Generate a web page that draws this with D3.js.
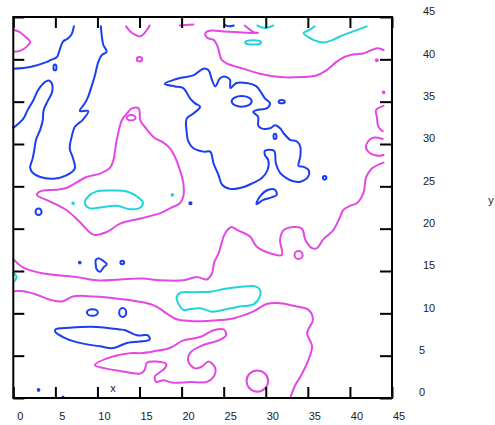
<!DOCTYPE html>
<html>
<head>
<meta charset="utf-8">
<script src="https://cdn.jsdelivr.net/npm/d3@7"></script>
<style>
  body { margin: 0; background: #fff; }
  svg { display: block; font-family: "Liberation Sans", Arial, sans-serif; }
</style>
</head>
<body>
<svg id="chart" width="495" height="425"></svg>
<script>
// tick values on both axes
const xTicks = [0, 5, 10, 15, 20, 25, 30, 35, 40, 45];
const yTicks = [0, 5, 10, 15, 20, 25, 30, 35, 40, 45];

// contour lines, points as [x, y] in data units
const magentaOpen = [
  [[0,43.5],[0.8,43.2],[1.5,42.6],[2.0,42.1],[1.6,41.5],[0.8,41.0],[0,40.9]],
  [[13.4,43.9],[13.9,43.3],[14.5,42.9],[15.0,42.7],[15.4,42.9],[15.9,43.5],[16.2,44.0]],
  [[19.8,44.0],[20.5,44.05],[21.4,44.1]],
  [[27.5,44.0],[28.0,43.6],[28.5,43.25],[29.1,43.1],[26.9,43.2],[25.0,43.3],[23.6,43.4],[22.9,43.2],
   [22.8,42.9],[23.1,42.5],[23.8,42.3],[24.2,41.7],[24.4,41.1],[24.6,40.3],[24.8,39.9],[25.4,39.5],
   [26.3,39.2],[27.3,38.9],[29.3,38.3],[31.7,37.9],[34.1,37.9],[36.0,38.1],[37.2,38.7],[38.4,39.7],
   [39.4,40.3],[40.6,40.6],[41.6,40.7],[42.6,41.1],[43.3,41.3],[44.0,41.1]],
  [[44.0,34.5],[43.1,34.0],[43.2,33.2],[43.4,32.0],[43.9,31.5]],
  [[43.9,30.6],[42.6,30.7],[41.9,29.7],[42.4,28.9],[43.4,28.6],[44.0,28.7]],
  [[44.0,27.8],[42.6,27.1],[41.9,26.0],[41.8,25.4],[41.6,24.2],[40.8,23.0],[40.0,22.7],[39.2,22.2],
   [38.8,21.3],[38.0,19.8],[36.8,18.7],[36.1,17.7],[35.5,17.7],[34.7,18.7],[34.3,20.0],[33.3,20.2],
   [32.1,19.8],[31.7,18.7],[31.9,16.9],[30.5,17.1],[28.9,17.9],[28.1,19.1],[26.7,19.8],[25.9,20.2],
   [25.4,19.8],[25.0,19.1],[24.4,17.1],[23.9,16.1],[23.6,14.7],[23.0,14.0],[21.8,14.3],[20.2,13.9],
   [17.4,13.9],[15.4,14.1],[12.7,14.0],[9.9,13.9],[7.5,14.3],[3.6,14.7],[1.2,15.4],[0,16.4]],
  [[0,12.6],[1.2,12.6],[2.8,12.2],[4.4,11.6],[5.8,11.4],[7.1,12.0],[9.5,12.0],[12.7,11.7],
   [15.4,11.3],[17.0,10.8],[18.2,10.0],[19.4,9.3],[21.0,9.1],[23.0,9.1],[24.6,9.2],[26.1,9.4],
   [28.5,10.2],[30.1,11.1],[31.7,11.2],[33.7,10.8],[35.1,10.4],[35.6,9.2],[35.1,8.2],[34.9,7.6],
   [35.5,6.1],[34.9,4.1],[34.1,2.5],[33.5,1.5],[32.9,0]]
];
const magentaClosed = [
  [[12.3,30.5],[12.9,32.8],[13.5,33.6],[14.1,34.2],[14.9,34.2],[15.1,32.8],[15.9,31.7],[16.8,30.7],
   [17.8,30.2],[18.6,29.5],[19.2,28.5],[19.8,26.9],[20.2,25.4],[20.2,23.8],[19.8,23.0],[18.6,22.4],
   [17.4,21.8],[15.1,21.2],[12.7,20.6],[11.1,19.6],[9.5,19.3],[7.9,20.8],[6.3,22.2],[4.4,23.2],
   [2.8,24.0],[3.2,24.4],[5.0,24.6],[6.3,24.8],[8.7,26.1],[10.3,26.5],[11.5,27.2],[11.9,28.1],[12.1,29.3]],
  [[9.7,3.9],[11.5,4.8],[13.9,5.3],[15.1,5.3],[16.6,5.5],[18.6,5.9],[20.2,6.8],[22.2,7.2],[23.8,8.0],
   [25.0,8.1],[25.3,7.4],[24.6,6.9],[22.2,6.1],[21.0,5.3],[20.8,4.3],[21.6,3.5],[22.4,3.7],[23.2,4.3],
   [24.0,3.5],[23.8,2.5],[23.0,1.9],[21.0,1.9],[19.0,1.8],[17.8,2.1],[17.0,1.9],[16.8,2.5],[18.0,3.5],
   [18.2,4.0],[17.0,4.3],[15.9,4.2],[15.6,3.3],[15.1,2.9],[12.7,3.2],[10.9,3.5]]
];
const magentaRings = [
  [15.0,40.0,0.32,0.27],[43.2,39.9,0.12,0.12],[44.0,36.1,0.1,0.1],
  [14.0,33.1,0.53,0.32],[33.9,16.9,0.48,0.47],[29.0,2.0,1.28,1.25]
];

const blueOpen = [
  [[7.2,43.9],[6.9,42.9],[6.4,42.4],[5.9,42.1],[5.5,41.1],[5.2,40.3],[4.4,39.9],[4.0,39.7],[2.0,39.1],[0,38.9]],
  [[0,31.9],[1.2,33.0],[1.7,34.0],[2.4,35.2],[2.9,36.3],[3.5,37.1],[4.2,37.5],[4.6,37.1],[4.6,36.1],
   [4.1,35.1],[3.6,34.0],[3.5,32.8],[3.2,31.7],[2.7,30.5],[2.5,29.3],[2.3,28.3],[2.0,27.2],[2.3,26.6],
   [3.2,26.1],[4.75,25.9],[6.3,26.3],[7.3,27.1],[7.1,28.3],[6.7,29.5],[6.9,30.7],[7.3,32.0],[7.7,32.4],
   [8.2,32.8],[8.9,33.9],[7.9,33.9],[8.5,34.8],[8.9,35.6],[9.3,36.8],[9.7,38.1],[10.1,39.7],[10.5,40.5],
   [11.1,40.9],[10.7,41.7],[10.5,42.9],[10.4,43.9]],
  [[25.2,44.05],[25.6,43.9],[26.2,44.0]]
];
const blueClosed = [
  [[18.0,37.1],[19.8,37.8],[21.4,38.1],[22.6,38.9],[23.2,38.7],[23.6,37.6],[24.0,36.8],[24.6,37.8],
   [25.2,37.95],[25.75,37.6],[25.8,36.6],[26.5,37.2],[27.7,37.2],[28.9,36.8],[29.5,36.0],[29.9,35.4],
   [30.5,34.8],[30.1,34.2],[28.9,34.0],[28.5,33.8],[29.1,33.2],[29.1,32.2],[29.5,31.85],[30.5,31.85],
   [31.1,32.2],[31.7,31.85],[32.1,31.3],[32.9,30.5],[33.7,30.3],[34.1,29.7],[34.1,28.5],[33.9,27.4],
   [34.5,27.3],[35.1,26.9],[35.0,26.1],[34.1,25.55],[33.3,25.6],[32.5,25.95],[31.7,26.6],[31.2,27.7],
   [30.98,29.2],[29.9,29.2],[29.9,28.7],[30.3,28.1],[30.2,26.9],[29.5,25.95],[28.5,25.4],[27.3,24.9],
   [25.75,24.7],[24.8,25.2],[24.4,26.3],[23.8,27.7],[23.4,29.1],[22.6,29.1],[21.4,29.5],[20.8,30.3],
   [20.6,31.45],[20.6,33.0],[21.4,33.6],[22.2,34.4],[21.6,34.8],[21.0,35.4],[20.2,36.6],[19.2,36.8]],
  [[28.9,22.9],[29.3,23.8],[30.3,24.6],[31.1,24.6],[31.3,24.0],[30.7,23.7],[29.7,23.4]],
  [[9.8,16.3],[10.1,16.5],[10.7,16.2],[11.1,15.8],[10.7,15.4],[10.3,14.9],[9.9,15.2],[9.8,15.7]],
  [[5.0,8.1],[6.7,8.3],[9.9,8.4],[12.7,8.1],[13.3,8.0],[14.7,7.4],[16.0,7.4],[16.2,6.9],[13.5,6.5],
   [11.9,5.9],[10.3,6.1],[7.5,6.6],[5.9,7.2],[5.0,7.8]]
];
const blueRings = [
  [4.95,39.05,0.18,0.35],[27.14,35.04,1.19,0.63],[31.9,35.0,0.36,0.2],[31.1,30.9,0.18,0.3],
  [37.0,26.0,0.21,0.21],[3.0,22.0,0.36,0.39],[21.05,23.0,0.13,0.13],[7.9,16.0,0.1,0.1],
  [12.95,16.0,0.22,0.2],[9.4,10.1,0.65,0.39],[13.0,10.1,0.42,0.53],[3.0,0.95,0.1,0.1],[5.9,0.1,0.08,0.08]
];

const cyanOpen = [
  [[29.0,44.0],[29.55,43.75],[30.3,43.75],[30.9,44.0]],
  [[35.8,43.9],[35.25,43.5],[34.5,43.1],[35.25,42.5],[36.2,42.1],[37.0,42.0],[38.0,42.3],[38.8,42.7],[40.4,43.3],[42.0,43.9]],
  [[0,14.8],[0.4,14.3],[0,13.7]]
];
const cyanClosed = [
  [[8.5,23.0],[8.9,23.8],[9.9,24.4],[11.9,24.5],[13.5,24.4],[14.7,23.8],[15.4,23.1],[15.1,22.5],
   [13.9,22.3],[12.3,22.7],[10.3,22.5],[9.1,22.4]],
  [[19.4,11.9],[19.8,12.4],[21.6,12.5],[23.4,12.55],[25.2,12.9],[26.9,13.1],[28.7,13.2],[29.3,12.8],
   [29.3,12.0],[28.6,11.1],[26.9,10.8],[25.4,10.5],[23.6,10.2],[22.2,10.6],[21.0,10.5],[20.2,10.4],[19.6,11.2]]
];
const cyanRings = [[28.5,42.0,0.95,0.26],[7.1,23.0,0.1,0.1],[18.9,24.0,0.1,0.1]];

const width = 495, height = 425;
const plot = {left: 13.3, right: 392, top: 17, bottom: 398};

const svg = d3.select("#chart");

const x = d3.scaleLinear().domain([0, 45]).range([plot.left, plot.right]);
const y = d3.scaleLinear().domain([0, 45]).range([plot.bottom, plot.top]);

const openLine = d3.line().x(d => x(d[0])).y(d => y(d[1])).curve(d3.curveCatmullRom.alpha(0.5));
const closedLine = d3.line().x(d => x(d[0])).y(d => y(d[1])).curve(d3.curveCatmullRomClosed.alpha(0.5));

function drawSet(color, open, closed, rings) {
  const g = svg.append("g")
    .attr("fill", "none")
    .attr("stroke", color)
    .attr("stroke-width", 2)
    .attr("stroke-linejoin", "round")
    .attr("stroke-linecap", "round");
  g.selectAll("path.o").data(open).join("path").attr("class", "o").attr("d", openLine);
  g.selectAll("path.c").data(closed).join("path").attr("class", "c").attr("d", closedLine);
  g.selectAll("ellipse").data(rings).join("ellipse")
    .attr("cx", d => x(d[0]))
    .attr("cy", d => y(d[1]))
    .attr("rx", d => x(d[2]) - x(0))
    .attr("ry", d => y(0) - y(d[3]));
}

drawSet("#e448e4", magentaOpen, magentaClosed, magentaRings);
drawSet("#1a3ef0", blueOpen, blueClosed, blueRings);
drawSet("#22d4d8", cyanOpen, cyanClosed, cyanRings);

// axes: inward ticks on all four sides
const tickStyle = g => g.call(g => g.select(".domain").remove())
  .call(g => g.selectAll(".tick line").attr("stroke", "#000").attr("stroke-width", 2))
  .call(g => g.selectAll(".tick text").attr("fill", "#222").attr("font-size", 11));

svg.append("g")
  .attr("transform", `translate(0,${plot.bottom})`)
  .call(d3.axisBottom(x).tickValues(xTicks).tickSize(-11).tickPadding(14))
  .call(tickStyle)
  .call(g => g.selectAll(".tick text").attr("dx", 6.5));

svg.append("g")
  .attr("transform", `translate(0,${plot.top})`)
  .call(d3.axisTop(x).tickValues(xTicks).tickSize(-11).tickFormat(""))
  .call(tickStyle);

svg.append("g")
  .attr("transform", `translate(${plot.left},0)`)
  .call(d3.axisLeft(y).tickValues(yTicks).tickSize(-11).tickFormat(""))
  .call(tickStyle);

svg.append("g")
  .attr("transform", `translate(${plot.right},0)`)
  .call(d3.axisRight(y).tickValues(yTicks).tickSize(-12))
  .call(tickStyle)
  .call(g => g.selectAll(".tick text")
    .attr("text-anchor", "middle")
    .attr("x", d => 23 + 7 * String(d).length)
    .attr("dy", "-0.2em"));

svg.append("rect")
  .attr("x", plot.left)
  .attr("y", plot.top)
  .attr("width", plot.right - plot.left)
  .attr("height", plot.bottom - plot.top)
  .attr("fill", "none")
  .attr("stroke", "#000")
  .attr("stroke-width", 2);

svg.append("text")
  .attr("x", 113)
  .attr("y", 392)
  .attr("text-anchor", "middle")
  .attr("font-size", 11)
  .attr("fill", "#222")
  .text("x");

svg.append("text")
  .attr("x", 491)
  .attr("y", 204)
  .attr("text-anchor", "middle")
  .attr("font-size", 11)
  .attr("fill", "#222")
  .text("y");
</script>
</body>
</html>
